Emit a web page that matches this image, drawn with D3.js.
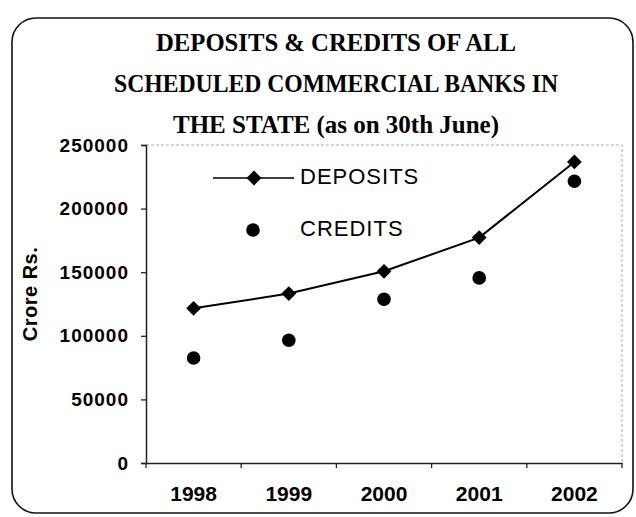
<!DOCTYPE html>
<html>
<head>
<meta charset="utf-8">
<script src="https://cdn.jsdelivr.net/npm/d3@7"></script>
<style>
    body { margin: 0; background: #fff; }
    svg { display: block; }
</style>
</head>
<body>
<svg id="chart" width="636" height="517"></svg>
<script>
const years = ["1998", "1999", "2000", "2001", "2002"];
const deposits = [121600, 133200, 150700, 177200, 236700];
const credits = [82500, 96500, 128700, 145500, 221500];
const yTicks = [0, 50000, 100000, 150000, 200000, 250000];
const titleLines = ["DEPOSITS & CREDITS OF ALL", "SCHEDULED COMMERCIAL BANKS IN", "THE STATE (as on 30th June)"];
const titleWidths = [360, 444, 326];
const seriesNames = ["DEPOSITS", "CREDITS"];

const svg = d3.select("#chart");
const plot = { left: 146, right: 622, top: 145, bottom: 463 };

const x = d3.scaleBand().domain(years).range([plot.left, plot.right]);
const y = d3.scaleLinear().domain([0, 250000]).range([plot.bottom, plot.top]);

// outer rounded frame
svg.append("rect")
    .attr("x", 12).attr("y", 18)
    .attr("width", 621).attr("height", 495)
    .attr("rx", 24)
    .attr("fill", "none")
    .attr("stroke", "#111")
    .attr("stroke-width", 1.6);

// title
svg.append("g")
    .selectAll("text")
    .data(titleLines)
    .join("text")
    .attr("x", 336)
    .attr("y", (d, i) => 51 + i * 41)
    .attr("text-anchor", "middle")
    .attr("font-family", "Liberation Serif, Times New Roman, serif")
    .attr("font-weight", "bold")
    .attr("font-size", 26)
    .attr("textLength", (d, i) => titleWidths[i])
    .attr("lengthAdjust", "spacingAndGlyphs")
    .attr("fill", "#000")
    .text(d => d);

// faint plot border (top + right)
svg.append("path")
    .attr("d", `M${plot.left},${plot.top}H${plot.right}V${plot.bottom}`)
    .attr("fill", "none")
    .attr("stroke", "#aaa")
    .attr("stroke-width", 1)
    .attr("stroke-dasharray", "3,2");

// y axis
const yAxis = svg.append("g")
    .attr("transform", `translate(${plot.left},0)`)
    .call(d3.axisLeft(y).tickValues(yTicks).tickFormat(d3.format("d")).tickSize(5).tickPadding(12));
yAxis.select(".domain").attr("stroke", "#222").attr("stroke-width", 1.5);
yAxis.selectAll(".tick line").attr("stroke", "#222").attr("stroke-width", 1.3);
yAxis.selectAll("text")
    .attr("font-family", "Liberation Sans, Arial, sans-serif")
    .attr("font-weight", "bold")
    .attr("font-size", 19)
    .attr("letter-spacing", 1)
    .attr("fill", "#000");

// x axis: labels centred in bands, ticks on band edges
const xAxis = svg.append("g")
    .attr("transform", `translate(0,${plot.bottom})`)
    .call(d3.axisBottom(x).tickSize(0).tickPadding(23));
xAxis.select(".domain").attr("stroke", "#222").attr("stroke-width", 1.5);
xAxis.selectAll("text")
    .attr("font-family", "Liberation Sans, Arial, sans-serif")
    .attr("font-weight", "bold")
    .attr("font-size", 21)
    .attr("fill", "#000");
xAxis.selectAll("line.edge")
    .data(years.map(d => x(d)).concat([x.range()[1]]))
    .join("line")
    .attr("class", "edge")
    .attr("x1", d => d).attr("x2", d => d)
    .attr("y1", 0).attr("y2", 5)
    .attr("stroke", "#222")
    .attr("stroke-width", 1.3);

// y axis title
svg.append("text")
    .attr("transform", "translate(37,294) rotate(-90)")
    .attr("text-anchor", "middle")
    .attr("font-family", "Liberation Sans, Arial, sans-serif")
    .attr("font-weight", "bold")
    .attr("font-size", 20)
    .attr("letter-spacing", 0.5)
    .text("Crore Rs.");

const cx = d => x(d) + x.bandwidth() / 2;

// deposits line + diamonds
svg.append("path")
    .datum(years.map((d, i) => [cx(d), y(deposits[i])]))
    .attr("d", d3.line())
    .attr("fill", "none")
    .attr("stroke", "#000")
    .attr("stroke-width", 2);

svg.append("g")
    .selectAll("path")
    .data(years)
    .join("path")
    .attr("d", d3.symbol().type(d3.symbolSquare).size(110))
    .attr("transform", (d, i) => `translate(${cx(d)},${y(deposits[i])}) rotate(45)`)
    .attr("fill", "#000");

// credits dots
svg.append("g")
    .selectAll("circle")
    .data(years)
    .join("circle")
    .attr("cx", d => cx(d))
    .attr("cy", (d, i) => y(credits[i]))
    .attr("r", 6.8)
    .attr("fill", "#000");

// legend
const legend = svg.append("g");
legend.append("line")
    .attr("x1", 213).attr("x2", 294)
    .attr("y1", 178).attr("y2", 178)
    .attr("stroke", "#000").attr("stroke-width", 1.5);
legend.append("path")
    .attr("d", d3.symbol().type(d3.symbolSquare).size(110))
    .attr("transform", "translate(254,178) rotate(45)")
    .attr("fill", "#000");
legend.append("circle")
    .attr("cx", 253).attr("cy", 230).attr("r", 6.8)
    .attr("fill", "#000");
legend.selectAll("text")
    .data(seriesNames)
    .join("text")
    .attr("x", 300)
    .attr("y", (d, i) => 184 + i * 52)
    .attr("font-family", "Liberation Sans, Arial, sans-serif")
    .attr("font-size", 22)
    .attr("letter-spacing", 1)
    .attr("fill", "#000")
    .text(d => d);
</script>
</body>
</html>
